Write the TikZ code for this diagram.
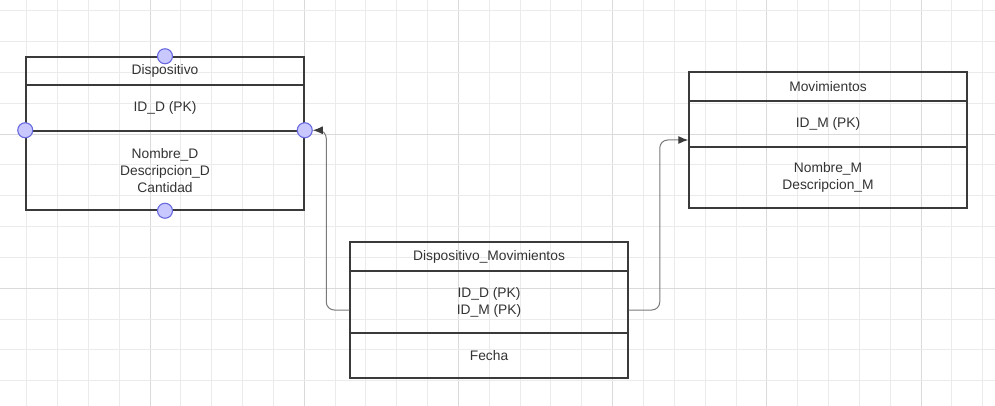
\documentclass[tikz,border=0pt]{standalone}
\usepackage{fontspec}
\setmainfont{Liberation Sans}
\usetikzlibrary{arrows.meta}
\definecolor{gridlight}{HTML}{EBEBEB}
\definecolor{gridmajor}{HTML}{DADADA}
\definecolor{boxline}{HTML}{3A3A3A}
\definecolor{boxtext}{HTML}{333333}
\definecolor{linkline}{HTML}{7A7A7A}
\definecolor{portfill}{HTML}{C8C8FF}
\definecolor{portline}{HTML}{6A6AE0}

\begin{document}
\begin{tikzpicture}[x=1pt,y=1pt,
    field/.style={draw=boxline, line width=1.5pt, minimum width=278pt, inner sep=0pt,
      align=center, text=boxtext, font=\fontsize{13.8}{17}\selectfont},
    port/.style={circle, draw=portline, fill=portfill, line width=1.1pt, minimum size=15pt, inner sep=0pt},
    link/.style={draw=linkline, line width=1pt, rounded corners=8pt,
      -{Latex[length=10pt,width=8pt,color=boxline]}}]
    \useasboundingbox (0,0) rectangle (995,-406);
    \fill [white] (0,0) rectangle (995,-406);
    \foreach \k in {0,...,31} {
      \pgfmathtruncatemacro{\major}{mod(\k,5)==4}
      \ifnum\major=1 \def\gc{gridmajor}\else \def\gc{gridlight}\fi
      \draw [\gc, line width=1pt] (26.7+30.84*\k,0) -- (26.7+30.84*\k,-406);
    }
    \foreach \k in {0,...,12} {
      \pgfmathtruncatemacro{\major}{mod(\k,5)==4}
      \ifnum\major=1 \def\gc{gridmajor}\else \def\gc{gridlight}\fi
      \draw [\gc, line width=1pt] (0,-10.7-30.84*\k) -- (995,-10.7-30.84*\k);
    }
    \node [field, minimum height=28pt] (dtitle) at (165,-71) {Dispositivo};
    \node [field, minimum height=46pt] (dkeys) at (165,-108) {ID\_D (PK)};
    \node [field, minimum height=79pt] (dattr) at (165,-170.5) {Nombre\_D\\Descripcion\_D\\Cantidad};
    \node [field, minimum height=29pt] (mtitle) at (828,-86.5) {Movimientos};
    \node [field, minimum height=46pt] (mkeys) at (828,-124) {ID\_M (PK)};
    \node [field, minimum height=61pt] (mattr) at (828,-177.5) {Nombre\_M\\Descripcion\_M};
    \node [field, minimum height=29pt] (jtitle) at (489,-256.5) {Dispositivo\_Movimientos};
    \node [field, minimum height=62pt] (jkeys) at (489,-302) {ID\_D (PK)\\ID\_M (PK)};
    \node [field, minimum height=45pt] (jattr) at (489,-355.5) {Fecha};
    \node [port] (dtop) at (dtitle.north) {};
    \node [port] (dleft) at (dattr.north west) {};
    \node [port] (dright) at (dattr.north east) {};
    \node [port] (dbottom) at (dattr.south) {};
    \draw [link] ([yshift=-8pt]jkeys.west) -- ++(-23,0) |- (dright.east);
    \draw [link] ([yshift=-8pt]jkeys.east) -- ++(31,0) |- ([yshift=-16pt]mkeys.west);
\end{tikzpicture}
\end{document}
